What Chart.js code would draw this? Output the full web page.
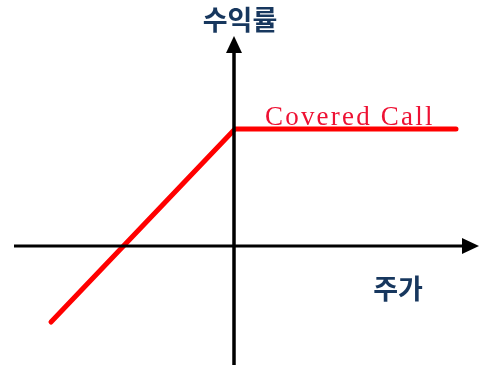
<!DOCTYPE html>
<html><head><meta charset="utf-8">
<script src="https://cdn.jsdelivr.net/npm/chart.js@4"></script>
<style>html,body{margin:0;padding:0;background:#fff}#wrap{width:482px;height:369px}</style>
</head><body><div id="wrap"><canvas id="c"></canvas></div>
<script>
// Payoff of a covered call (stock price vs return), in chart units (origin = axes crossing)
const payoffX = [-183, 1, 222];
const payoffY = [-76, 117, 117];
const xAxisX = [-220, 232];
const xAxisY = [0, 0];
const yAxisX = [0, 0];
const yAxisY = [-119, 197];
const arrowTips = [{x: 245, y: 0, dir: 'right'}, {x: 0, y: 210, dir: 'up'}];
const labels = [
  {text: '수익률', x: 6, y: 226, align: 'center', base: 'middle', font: '700 27px "Noto Sans CJK KR"', color: '#17375E'},
  {text: 'Covered Call', x: 31, y: 121, align: 'left', base: 'alphabetic', font: '27px "Liberation Serif"', color: '#EE1133', spacing: '2.2px'},
  {text: '주가', x: 164, y: -43, align: 'center', base: 'middle', font: '700 27px "Noto Sans CJK KR"', color: '#17375E'}
];
const zip = (xs, ys) => xs.map((x, i) => ({x, y: ys[i]}));

const overlay = {
  id: 'overlay',
  afterDatasetsDraw(chart) {
    const {ctx, scales: {x, y}} = chart;
    ctx.save();
    ctx.fillStyle = '#000';
    arrowTips.forEach(a => {
      const px = x.getPixelForValue(a.x), py = y.getPixelForValue(a.y);
      ctx.beginPath();
      if (a.dir === 'right') {
        ctx.moveTo(px, py); ctx.lineTo(px - 17, py - 8); ctx.lineTo(px - 17, py + 8);
      } else {
        ctx.moveTo(px, py); ctx.lineTo(px - 8, py + 17); ctx.lineTo(px + 8, py + 17);
      }
      ctx.closePath(); ctx.fill();
    });
    labels.forEach(l => {
      ctx.font = l.font; ctx.fillStyle = l.color;
      ctx.textAlign = l.align; ctx.textBaseline = l.base;
      ctx.letterSpacing = l.spacing || '0px';
      ctx.fillText(l.text, x.getPixelForValue(l.x), y.getPixelForValue(l.y));
    });
    ctx.restore();
  }
};

new Chart(document.getElementById('c'), {
  type: 'line',
  data: {
    datasets: [
      {data: zip(xAxisX, xAxisY), borderColor: '#000', borderWidth: 3, pointRadius: 0, borderCapStyle: 'butt'},
      {data: zip(yAxisX, yAxisY), borderColor: '#000', borderWidth: 3.5, pointRadius: 0, borderCapStyle: 'butt'},
      {data: zip(payoffX, payoffY), borderColor: '#FF0000', borderWidth: 5, pointRadius: 0, borderCapStyle: 'round', borderJoinStyle: 'round'}
    ]
  },
  options: {
    responsive: true, maintainAspectRatio: false, animation: false,
    layout: {padding: 0},
    plugins: {legend: {display: false}, tooltip: {enabled: false}},
    scales: {
      x: {type: 'linear', min: -234, max: 248, display: false},
      y: {type: 'linear', min: -123, max: 246, display: false}
    },
    elements: {line: {tension: 0}}
  },
  plugins: [overlay]
});
</script></body></html>
